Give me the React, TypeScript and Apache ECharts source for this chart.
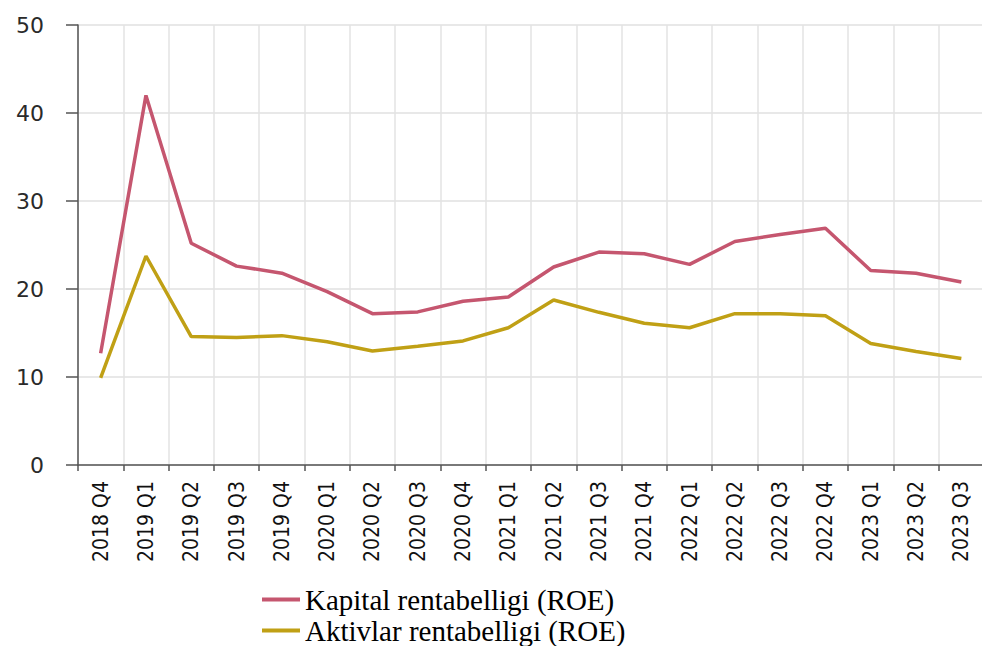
import React, { useEffect, useRef } from "react";
import * as echarts from "echarts";

const categories = [
  "2018 Q4", "2019 Q1", "2019 Q2", "2019 Q3", "2019 Q4",
  "2020 Q1", "2020 Q2", "2020 Q3", "2020 Q4",
  "2021 Q1", "2021 Q2", "2021 Q3", "2021 Q4",
  "2022 Q1", "2022 Q2", "2022 Q3", "2022 Q4",
  "2023 Q1", "2023 Q2", "2023 Q3",
];

const roeValues = [
  12.7, 42.0, 25.2, 22.6, 21.8,
  19.7, 17.2, 17.4, 18.6,
  19.1, 22.5, 24.2, 24.0,
  22.8, 25.4, 26.2, 26.9,
  22.1, 21.8, 20.8,
];

const roaValues = [
  9.9, 23.75, 14.6, 14.5, 14.7,
  14.0, 12.95, 13.5, 14.1,
  15.6, 18.75, 17.35, 16.1,
  15.6, 17.2, 17.2, 16.95,
  13.8, 12.9, 12.1,
];

const seriesNames = ["Kapital rentabelligi (ROE)", "Aktivlar rentabelligi (ROE)"];
const seriesColors = ["#C5566F", "#C0A015"];

const legendText = {
  fontFamily: "Liberation Serif",
  fontSize: 29,
  color: "#000000",
  lineHeight: 29,
};

export default function App() {
  const ref = useRef<HTMLDivElement>(null);
  useEffect(() => {
    if (!ref.current) return;
    const chart = echarts.init(ref.current, null, { renderer: "svg" });
    chart.setOption({
      animation: false,
      backgroundColor: "#ffffff",
      color: seriesColors,
      grid: { left: 78, top: 25, width: 906, bottom: 181, containLabel: false },
      legend: [
        {
          left: 262,
          top: 585,
          itemWidth: 38,
          itemHeight: 4,
          icon: "rect",
          padding: 0,
          data: [seriesNames[0]],
          textStyle: legendText,
        },
        {
          left: 262,
          top: 616,
          itemWidth: 38,
          itemHeight: 4,
          icon: "rect",
          padding: 0,
          data: [seriesNames[1]],
          textStyle: legendText,
        },
      ],
      xAxis: {
        type: "category",
        data: categories,
        boundaryGap: true,
        axisLine: { show: true, lineStyle: { color: "#555555", width: 1.5 } },
        axisTick: { show: true, length: 6, lineStyle: { color: "#555555", width: 1.5 } },
        splitLine: { show: true, lineStyle: { color: "#e3e3e3", width: 1.5 } },
        axisLabel: {
          rotate: 90,
          margin: 16,
          fontFamily: "DejaVu Sans Condensed, Liberation Sans Narrow, sans-serif",
          fontSize: 21,
          color: "#111111",
        },
      },
      yAxis: {
        type: "value",
        min: 0,
        max: 50,
        interval: 10,
        axisLine: { show: true, lineStyle: { color: "#555555", width: 1.5 } },
        axisTick: { show: true, length: 12, lineStyle: { color: "#555555", width: 1.5 } },
        splitLine: { show: true, lineStyle: { color: "#e0e0e0", width: 1.5 } },
        axisLabel: {
          margin: 34,
          fontFamily: "DejaVu Sans",
          fontSize: 22,
          color: "#2a2a2a",
        },
      },
      series: [
        {
          name: seriesNames[0],
          type: "line",
          data: roeValues,
          showSymbol: false,
          symbol: "none",
          lineStyle: { width: 3.5, color: seriesColors[0] },
        },
        {
          name: seriesNames[1],
          type: "line",
          data: roaValues,
          showSymbol: false,
          symbol: "none",
          lineStyle: { width: 3.5, color: seriesColors[1] },
        },
      ],
    });
    return () => chart.dispose();
  }, []);
  return (
    <div
      ref={ref}
      style={{ position: "fixed", left: 0, top: 0, width: 990, height: 646 }}
    />
  );
}
